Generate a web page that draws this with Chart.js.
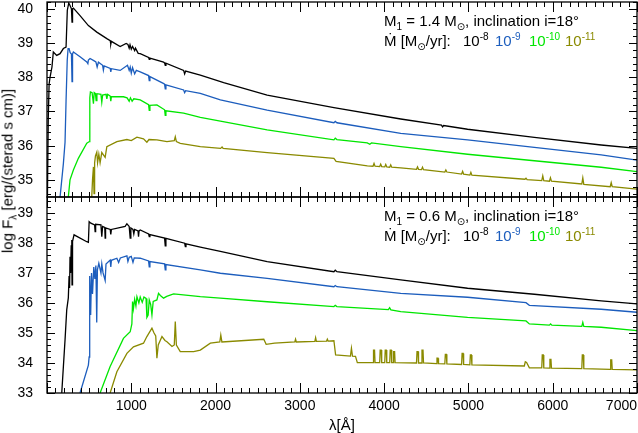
<!DOCTYPE html>
<html>
<head>
<meta charset="utf-8">
<script src="https://cdn.jsdelivr.net/npm/chart.js@4.4.0/dist/chart.umd.min.js"></script>
<style>
body { margin: 0; background: #fff; }
#wrap { position: relative; width: 638px; height: 433px; overflow: hidden;
        font-family: "Liberation Sans", Arial, "DejaVu Sans", sans-serif; color: #000; }
#cTop { position: absolute; left: 0; top: 0; }
#cBot { position: absolute; left: 0; top: 195px; }
.lbl { position: absolute; font-size: 15px; line-height: 15px; white-space: nowrap; }
.sb { font-size: 10px; position: relative; top: 4px; }
.sp { font-size: 10px; position: relative; top: -6px; }
.c8 { color: #000000; } .c9 { color: #1c5dbd; } .c10 { color: #00e600; } .c11 { color: #8a8a00; }
</style>
</head>
<body>
<div id="wrap">
  <canvas id="cTop" width="638" height="200"></canvas>
  <canvas id="cBot" width="638" height="238"></canvas>

  <div class="lbl" style="left:384px;top:13px">M<span class="sb">1</span> = 1.4 M<span class="sb">⊙</span>, inclination i=18°</div>
  <div class="lbl" style="left:384px;top:33px">Ṁ [M<span class="sb">⊙</span>/yr]:</div>
  <div class="lbl c8" style="left:463px;top:33px">10<span class="sp">-8</span></div>
  <div class="lbl c9" style="left:495px;top:33px">10<span class="sp">-9</span></div>
  <div class="lbl c10" style="left:529px;top:33px">10<span class="sp">-10</span></div>
  <div class="lbl c11" style="left:565px;top:33px">10<span class="sp">-11</span></div>

  <div class="lbl" style="left:384px;top:208px">M<span class="sb">1</span> = 0.6 M<span class="sb">⊙</span>, inclination i=18°</div>
  <div class="lbl" style="left:384px;top:228px">Ṁ [M<span class="sb">⊙</span>/yr]:</div>
  <div class="lbl c8" style="left:463px;top:228px">10<span class="sp">-8</span></div>
  <div class="lbl c9" style="left:495px;top:228px">10<span class="sp">-9</span></div>
  <div class="lbl c10" style="left:529px;top:228px">10<span class="sp">-10</span></div>
  <div class="lbl c11" style="left:565px;top:228px">10<span class="sp">-11</span></div>

  <div class="lbl" style="left:8px;top:171px;transform:translate(-50%,-50%) rotate(-90deg)">log F<span class="sb">λ</span> [erg/(sterad s cm)]</div>
  <div class="lbl" style="left:47px;width:590px;text-align:center;top:417px">λ[Å]</div>
</div>

<script>
// wavelength (Angstrom) / log F_lambda pairs
// upper panel, M1 = 1.4 Msun
const top8 = [[5,34.5],[15,36.8],[25,37.8],[36,38.0],[59,38.3],[75,38.74],[115,38.64],[155,38.69],[194,38.84],[226,38.88],[241,39.96],[258,40.17],[273,40.1],[290,40.0],[297,39.61],[303,40.0],[313,40.02],[392,39.8],[491,39.51],[591,39.32],[710,39.13],[750,39.07],[757,38.97],[764,39.05],[868,38.9],[939,38.99],[960,38.96],[975,38.85],[985,38.95],[1000,38.82],[1015,38.9],[1040,38.78],[1050,38.85],[1082,38.7],[1106,38.69],[1205,38.58],[1213,38.52],[1221,38.56],[1383,38.44],[1395,38.42],[1403,38.35],[1411,38.41],[1621,38.2],[1633,38.1],[1645,38.18],[1819,38.06],[2096,37.84],[2612,37.48],[3404,37.11],[4197,36.78],[4680,36.6],[4693,36.55],[4706,36.59],[4990,36.48],[5782,36.24],[6575,36.02],[7000,35.92]];
const top9 = [[155,34.5],[194,35.47],[214,36.1],[226,37.3],[240,38.5],[250,38.84],[262,38.84],[275,38.72],[290,38.68],[297,37.87],[303,38.68],[313,38.74],[392,38.6],[472,38.45],[485,38.4],[491,38.5],[511,38.55],[560,38.48],[580,38.45],[595,38.3],[610,38.44],[660,38.35],[669,38.21],[678,38.33],[750,38.26],[757,38.16],[764,38.25],[868,38.2],[955,38.35],[975,38.2],[987,38.3],[1000,38.12],[1015,38.28],[1040,38.1],[1060,38.2],[1106,38.16],[1205,38.05],[1213,37.9],[1221,38.02],[1380,37.82],[1395,37.8],[1403,37.66],[1411,37.78],[1621,37.63],[1633,37.55],[1645,37.61],[1819,37.53],[2057,37.34],[2612,37.04],[3404,36.67],[3420,36.71],[3440,36.67],[4197,36.36],[4990,36.17],[5782,35.95],[6575,35.73],[7000,35.58]];
const top10 = [[253,34.5],[273,35.0],[313,35.29],[372,35.63],[472,36.07],[503,36.12],[508,37.4],[515,37.57],[535,37.55],[551,37.23],[560,37.55],[575,37.52],[583,37.32],[592,37.52],[640,37.5],[650,37.27],[660,37.48],[700,37.5],[710,37.37],[720,37.5],[750,37.45],[757,37.3],[764,37.43],[907,37.43],[950,37.4],[975,37.3],[990,37.4],[1010,37.3],[1030,37.37],[1106,37.34],[1205,37.2],[1213,37.03],[1221,37.18],[1304,37.19],[1395,37.05],[1403,36.89],[1411,37.02],[1621,36.95],[1819,36.83],[2057,36.72],[2612,36.46],[3404,36.17],[3420,36.22],[3440,36.18],[3800,36.08],[3830,36.04],[3850,36.08],[4197,35.97],[4990,35.75],[5782,35.56],[6575,35.37],[7000,35.24]];
const top11 = [[531,34.5],[540,35.0],[551,35.38],[558,34.6],[565,35.5],[575,35.7],[591,35.81],[600,35.5],[615,35.75],[630,35.5],[650,35.8],[690,35.66],[710,35.97],[829,36.12],[948,36.18],[1000,36.15],[1067,36.25],[1145,36.2],[1185,36.1],[1210,36.18],[1304,36.17],[1423,36.12],[1510,36.15],[1522,36.26],[1535,36.12],[1581,36.07],[1819,35.97],[2060,35.92],[2077,35.96],[2090,35.92],[2612,35.8],[3404,35.63],[3430,35.54],[3801,35.41],[3868,35.4],[3880,35.48],[3892,35.4],[3947,35.39],[3959,35.46],[3971,35.39],[4007,35.38],[4019,35.45],[4031,35.38],[4066,35.37],[4078,35.44],[4090,35.37],[4197,35.35],[4384,35.31],[4396,35.38],[4408,35.31],[4443,35.3],[4455,35.37],[4467,35.3],[4720,35.23],[4732,35.29],[4744,35.23],[4919,35.17],[4931,35.25],[4943,35.17],[5017,35.14],[5029,35.22],[5041,35.14],[5670,35.02],[5683,35.05],[5696,35.01],[5870,34.98],[5882,35.12],[5894,34.98],[5961,34.96],[5973,35.06],[5985,34.96],[6345,34.88],[6357,35.06],[6369,34.87],[6682,34.8],[6694,34.92],[6706,34.8],[7000,34.73]];

// lower panel, M1 = 0.6 Msun
const bot8 = [[175,33],[214,34.77],[234,35.77],[253,36.17],[262,36.9],[268,36.5],[273,37.54],[280,37.0],[287,37.9],[294,38.1],[297,36.6],[303,38.05],[321,38.27],[472,38.04],[491,38.02],[500,38.71],[520,38.66],[565,38.6],[571,38.38],[577,38.62],[640,38.6],[650,38.21],[660,38.55],[685,38.52],[690,38.16],[695,38.5],[750,38.45],[757,38.28],[764,38.45],[927,38.55],[948,38.64],[975,38.55],[987,38.16],[995,38.5],[1020,38.45],[1030,38.3],[1040,38.45],[1080,38.4],[1086,38.21],[1092,38.4],[1106,38.43],[1205,38.3],[1213,38.21],[1221,38.28],[1395,38.16],[1403,37.9],[1411,38.15],[1633,37.99],[1641,37.88],[1649,37.97],[1819,37.86],[2057,37.72],[2612,37.38],[3404,37.04],[3420,37.09],[3440,37.04],[4197,36.77],[4990,36.49],[5782,36.29],[6575,36.07],[7000,35.97]];
const bot9 = [[392,33],[491,33.93],[500,34.2],[503,36.0],[510,36.9],[518,35.6],[528,37.0],[540,36.3],[555,37.2],[568,36.8],[580,37.25],[590,35.35],[598,37.1],[615,37.32],[640,37.0],[650,37.3],[665,37.0],[690,36.75],[700,37.3],[749,37.43],[757,37.2],[764,37.42],[829,37.49],[850,37.35],[870,37.5],[948,37.57],[960,37.38],[975,37.52],[1000,37.55],[1020,37.35],[1035,37.5],[1106,37.49],[1205,37.4],[1213,37.2],[1221,37.38],[1395,37.3],[1403,37.1],[1411,37.28],[1819,37.1],[2057,36.99],[2612,36.82],[3404,36.54],[3420,36.58],[3440,36.54],[4197,36.32],[4990,36.19],[5683,36.01],[5723,35.92],[6575,35.79],[7000,35.69]];
const bot10 = [[630,33],[749,33.88],[907,34.82],[987,35.04],[1007,35.3],[1015,36.05],[1025,35.8],[1040,36.12],[1055,35.9],[1067,36.21],[1090,36.0],[1106,36.2],[1130,36.02],[1150,36.2],[1175,36.15],[1185,35.52],[1200,35.6],[1213,36.1],[1230,35.95],[1245,35.6],[1260,36.05],[1304,36.1],[1323,36.32],[1345,36.25],[1383,36.16],[1420,36.22],[1502,36.3],[1819,36.21],[2057,36.16],[2612,36.04],[3404,35.88],[3420,35.92],[3440,35.88],[4050,35.78],[4065,35.84],[4080,35.77],[4197,35.71],[4990,35.52],[5683,35.4],[5723,35.3],[5960,35.26],[5975,35.3],[5990,35.26],[6345,35.22],[6357,35.35],[6369,35.22],[6575,35.19],[7000,35.08]];
const bot11 = [[749,33],[829,33.71],[948,34.32],[1026,34.54],[1145,34.66],[1185,34.88],[1245,35.16],[1270,35.0],[1290,34.9],[1304,34.16],[1320,34.6],[1364,34.88],[1400,34.75],[1423,34.71],[1483,34.55],[1510,34.6],[1522,35.38],[1535,34.6],[1581,34.38],[1740,34.38],[1819,34.43],[1938,34.66],[2050,34.7],[2062,34.93],[2075,34.7],[2572,34.79],[2600,34.62],[2700,34.66],[2940,34.7],[2949,34.79],[2958,34.7],[3178,34.72],[3187,34.84],[3196,34.72],[3317,34.73],[3326,34.79],[3335,34.73],[3404,34.74],[3424,34.27],[3600,34.23],[3612,34.49],[3624,34.23],[3660,34.22],[3682,34.01],[3868,34.01],[3874,34.43],[3886,34.43],[3892,34.01],[3947,34.01],[3953,34.43],[3965,34.43],[3971,34.01],[4007,34.01],[4013,34.43],[4025,34.43],[4031,34.01],[4066,34.01],[4072,34.43],[4084,34.43],[4090,34.01],[4106,34.01],[4112,34.38],[4124,34.38],[4130,34.01],[4384,34.0],[4390,34.38],[4402,34.38],[4408,34.0],[4443,34.0],[4449,34.43],[4461,34.43],[4467,34.0],[4621,33.98],[4627,34.16],[4639,34.16],[4645,33.98],[4720,33.97],[4726,34.29],[4738,34.29],[4744,33.97],[4919,33.95],[4925,34.32],[4937,34.32],[4943,33.95],[5017,33.94],[5023,34.27],[5035,34.27],[5041,33.94],[5663,33.9],[5675,34.04],[5690,34.02],[5723,33.84],[5870,33.84],[5876,34.27],[5888,34.27],[5894,33.84],[5961,33.83],[5967,34.12],[5979,34.12],[5985,33.83],[6345,33.81],[6351,34.27],[6363,34.27],[6369,33.81],[6682,33.79],[6688,34.1],[6700,34.1],[6706,33.79],[7000,33.77]];

const colors = ['#000000', '#1c5dbd', '#00e600', '#8a8a00'];
const xTicks = [0, 1000, 2000, 3000, 4000, 5000, 6000, 7000];
const fontFam = '"Liberation Sans", Arial, sans-serif';

// frame and inward ticks on all four sides
const framePlugin = {
    id: 'frame',
    afterDatasetsDraw(chart) {
        const { ctx, chartArea: a, scales: { x, y } } = chart;
        ctx.save();
        ctx.strokeStyle = '#000';
        ctx.lineWidth = 1;
        ctx.beginPath();
        for (let v = 0; v <= 7000; v += 100) {
            const px = Math.round(x.getPixelForValue(v)) + 0.5;
            const len = v % 1000 === 0 ? 10 : 5;
            ctx.moveTo(px, a.top); ctx.lineTo(px, a.top + len);
            ctx.moveTo(px, a.bottom); ctx.lineTo(px, a.bottom - len);
        }
        for (let k = Math.ceil(y.min * 5); k <= Math.floor(y.max * 5); k++) {
            const py = Math.round(y.getPixelForValue(k / 5)) + 0.5;
            const len = k % 5 === 0 ? 8 : 4;
            ctx.moveTo(a.left, py); ctx.lineTo(a.left + len, py);
            ctx.moveTo(a.right, py); ctx.lineTo(a.right - len, py);
        }
        ctx.stroke();
        ctx.lineWidth = 1.3;
        ctx.strokeRect(a.left, a.top, a.right - a.left, a.bottom - a.top);
        ctx.restore();
    }
};

function makeChart(canvas, series, yMin, yMax, showX) {
    new Chart(canvas, {
        type: 'line',
        data: {
            datasets: series.map((s, i) => ({
                data: s.map(p => ({ x: p[0], y: p[1] })),
                borderColor: colors[i],
                borderWidth: 1.3,
                pointRadius: 0,
                fill: false,
                tension: 0
            }))
        },
        options: {
            responsive: false,
            animation: false,
            events: [],
            layout: { autoPadding: false, padding: { top: 2, right: 1, left: 0, bottom: showX ? 0 : 3 } },
            plugins: { legend: { display: false }, tooltip: { enabled: false } },
            scales: {
                x: {
                    type: 'linear',
                    min: 0,
                    max: 7000,
                    display: showX,
                    afterBuildTicks: s => { s.ticks = xTicks.map(v => ({ value: v })); },
                    afterFit: s => { s.height = showX ? 40 : 0; s.paddingLeft = 0; s.paddingRight = 0; },
                    grid: { display: false, drawTicks: false },
                    border: { display: false },
                    ticks: {
                        align: 'inner',
                        autoSkip: false,
                        maxRotation: 0,
                        padding: 5,
                        color: '#000',
                        font: { family: fontFam, size: 14 },
                        callback: v => v === 0 ? '' : String(v)
                    }
                },
                y: {
                    min: yMin,
                    max: yMax,
                    afterFit: s => { s.width = 47; s.paddingTop = 0; s.paddingBottom = 0; },
                    grid: { display: false, drawTicks: false },
                    border: { display: false },
                    ticks: {
                        stepSize: 1,
                        includeBounds: false,
                        padding: 14,
                        color: '#000',
                        font: { family: fontFam, size: 14 }
                    }
                }
            }
        },
        plugins: [framePlugin]
    });
}

makeChart(document.getElementById('cTop'), [top8, top9, top10, top11], 34.5, 40.2, false);
makeChart(document.getElementById('cBot'), [bot8, bot9, bot10, bot11], 33, 39.53, true);
</script>
</body>
</html>
